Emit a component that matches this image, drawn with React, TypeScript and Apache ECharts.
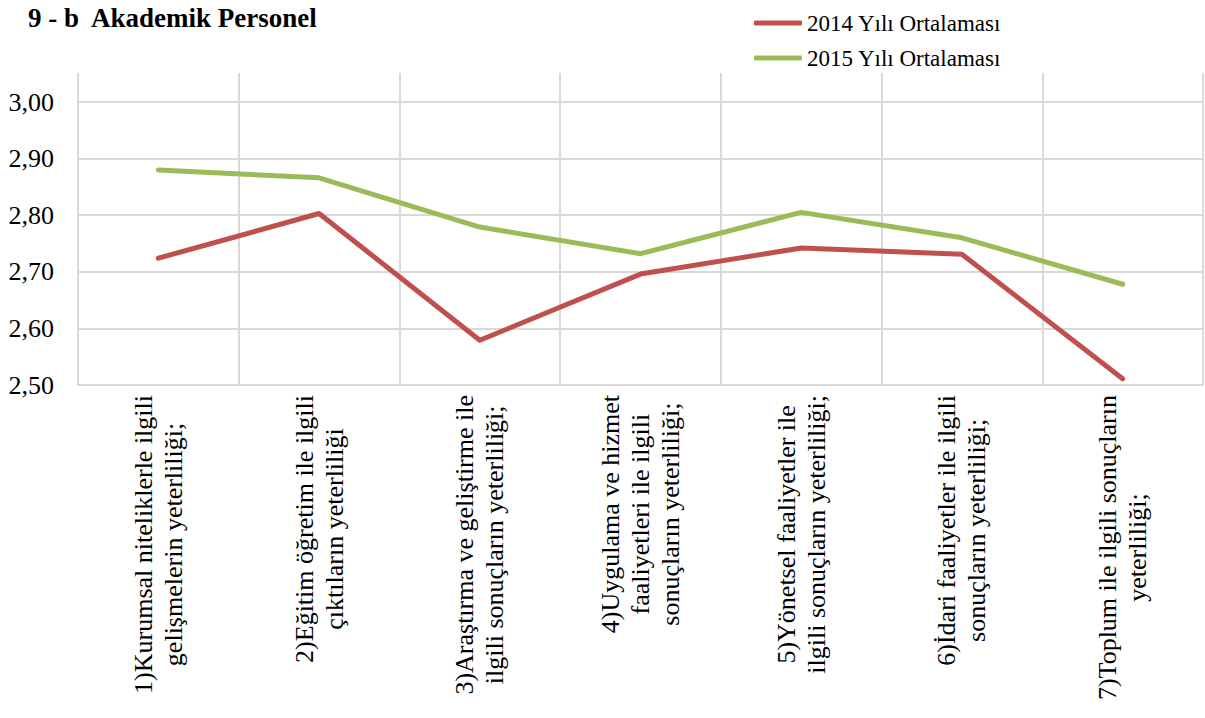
import React, { useEffect, useRef } from "react";
import * as echarts from "echarts";

const titleText = "9 - b  Akademik Personel";
const categories = [
  "1)Kurumsal niteliklerle ilgili\ngelişmelerin yeterliliği;",
  "2)Eğitim öğretim ile ilgili\nçıktıların yeterliliği",
  "3)Araştırma ve geliştirme ile\nilgili sonuçların yeterliliği;",
  "4)Uygulama ve hizmet\nfaaliyetleri ile ilgili\nsonuçların yeterliliği;",
  "5)Yönetsel faaliyetler ile\nilgili sonuçların yeterliliği;",
  "6)İdari faaliyetler ile ilgili\nsonuçların yeterliliği;",
  "7)Toplum ile ilgili sonuçların\nyeterliliği;",
];
const seriesNames = ["2014 Yılı Ortalaması", "2015 Yılı Ortalaması"];
const values2014 = [2.724, 2.803, 2.579, 2.696, 2.742, 2.731, 2.511];
const values2015 = [2.88, 2.866, 2.779, 2.732, 2.805, 2.76, 2.678];
const yMin = 2.5;
const yMaxLabel = 3.0;
const yInterval = 0.1;

const FONT = "Times New Roman, Liberation Serif, Tinos, DejaVu Serif, serif";

export default function App() {
  const ref = useRef<HTMLDivElement>(null);
  useEffect(() => {
    if (!ref.current) return;
    const chart = echarts.init(ref.current, undefined, { renderer: "svg" });
    const gridTop = 73;
    const gridBottomPx = 385;
    const pxPerUnit = (gridBottomPx - 102) / (yMaxLabel - yMin);
    const yMax = yMaxLabel + (102 - gridTop) / pxPerUnit;
    chart.setOption({
      animation: false,
      backgroundColor: "#ffffff",
      textStyle: { fontFamily: FONT },
      title: {
        text: titleText,
        left: 28,
        top: 4,
        padding: 0,
        textStyle: { fontFamily: FONT, fontSize: 27, fontWeight: "bold", color: "#000" },
      },
      legend: {
        orient: "vertical",
        left: 749,
        top: 6,
        itemWidth: 48,
        itemHeight: 5,
        itemGap: 11,
        icon: "roundRect",
        data: seriesNames,
        textStyle: { fontFamily: FONT, fontSize: 23, color: "#000", lineHeight: 24 },
      },
      grid: { left: 78, right: 2, top: gridTop, bottom: 718 - gridBottomPx, containLabel: false },
      xAxis: {
        type: "category",
        data: categories,
        boundaryGap: true,
        axisLine: { show: true, lineStyle: { color: "#D9D9D9", width: 2 } },
        axisTick: { show: false },
        splitLine: { show: true, lineStyle: { color: "#D9D9D9", width: 2 } },
        axisLabel: {
          rotate: 90,
          margin: 10,
          interval: 0,
          fontFamily: FONT,
          formatter: (v: string) => v.split("\n").map((l) => `{c|${l}}`).join("\n"),
          rich: {
            c: { fontFamily: FONT, fontSize: 26, lineHeight: 30, color: "#000", align: "center" },
          },
        },
      },
      yAxis: {
        type: "value",
        min: yMin,
        max: yMax,
        interval: yInterval,
        axisLine: { show: false },
        axisTick: { show: false },
        splitLine: {
          show: true,
          lineStyle: {
            color: ["#D9D9D9", "#D9D9D9", "#D9D9D9", "#D9D9D9", "#D9D9D9", "#D9D9D9", "rgba(0,0,0,0)"],
            width: 2,
          },
        },
        axisLabel: {
          margin: 24,
          showMaxLabel: false,
          fontFamily: FONT,
          fontSize: 26,
          color: "#000",
          formatter: (v: number) => (v > yMaxLabel + 1e-9 ? "" : v.toFixed(2).replace(".", ",")),
        },
      },
      series: [
        {
          name: seriesNames[0],
          type: "line",
          data: values2014,
          symbol: "none",
          color: "#C0504D",
          lineStyle: { color: "#C0504D", width: 5, cap: "round", join: "round" },
        },
        {
          name: seriesNames[1],
          type: "line",
          data: values2015,
          symbol: "none",
          color: "#9BBB59",
          lineStyle: { color: "#9BBB59", width: 5, cap: "round", join: "round" },
        },
      ],
    });
    return () => chart.dispose();
  }, []);
  return (
    <div
      ref={ref}
      style={{ position: "absolute", left: 0, top: 0, width: 1205, height: 718 }}
    />
  );
}
